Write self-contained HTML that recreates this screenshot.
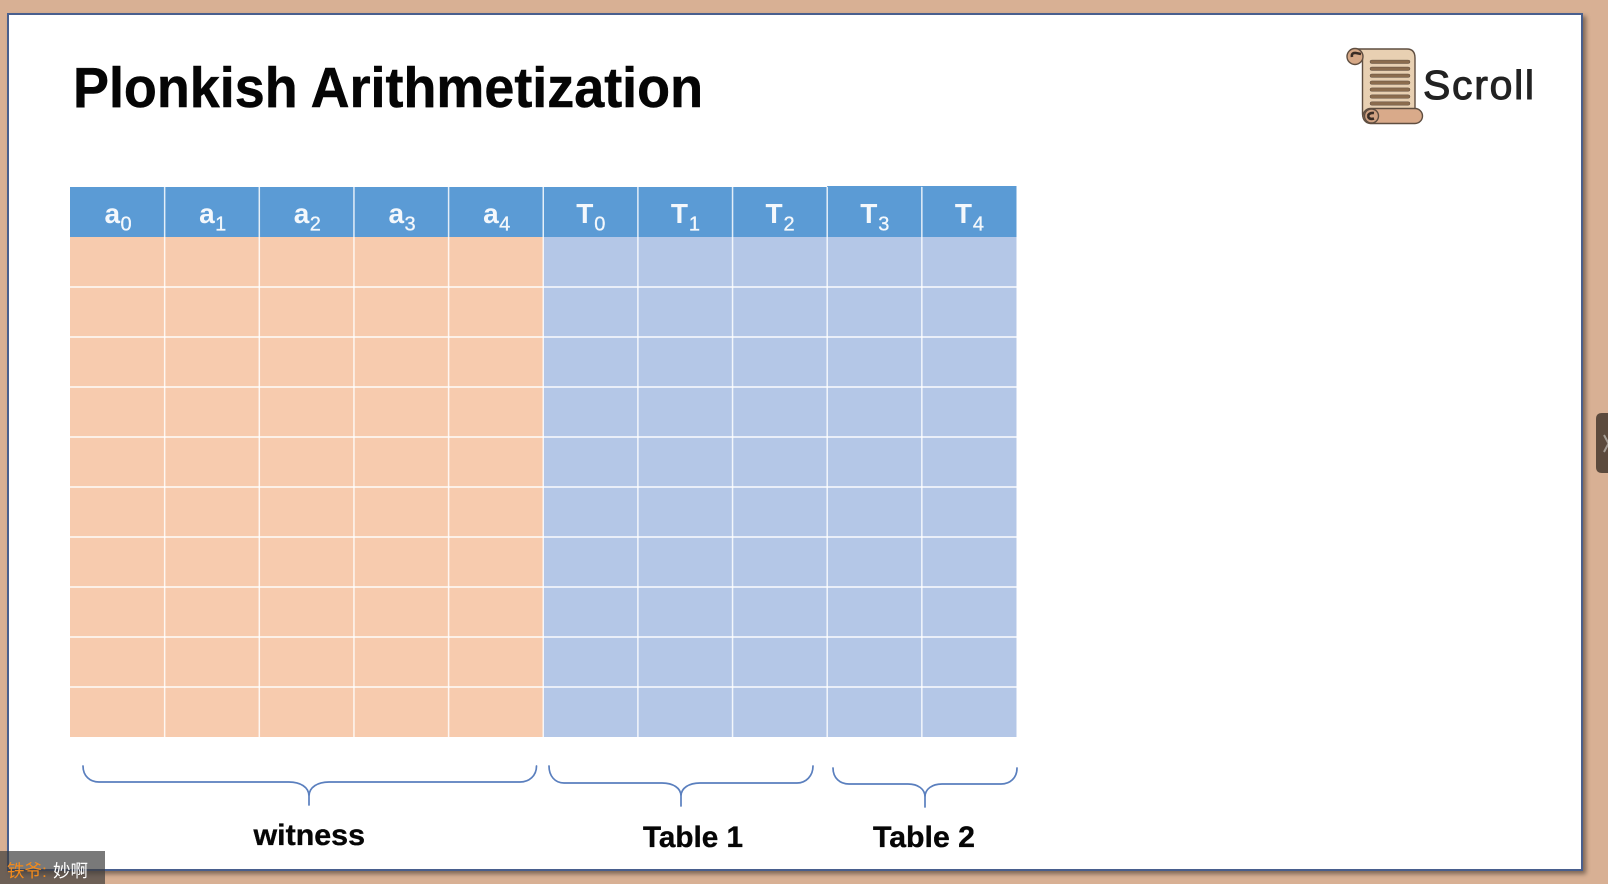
<!DOCTYPE html>
<html lang="en">
<head>
<meta charset="utf-8">
<title>Plonkish Arithmetization</title>
<style>
html,body{margin:0;padding:0;width:1608px;height:884px;overflow:hidden;background:#d8b094}
svg{display:block;position:absolute;left:0;top:0}
text{font-family:"Liberation Sans","Noto Sans CJK SC",sans-serif}
</style>
</head>
<body>
<svg id="stage" width="1608" height="884" viewBox="0 0 1608 884" xmlns="http://www.w3.org/2000/svg">
  <defs>
    <filter id="slideShadow" x="-2%" y="-2%" width="104%" height="104%">
      <feDropShadow dx="3" dy="3" stdDeviation="2.5" flood-color="#000" flood-opacity=".42"/>
    </filter>
  </defs>
  <rect x="8" y="14" width="1574" height="856" fill="#fff" stroke="#4a5f8e" stroke-width="2" filter="url(#slideShadow)"/>

  <text x="73" y="107" font-size="57" font-weight="700" fill="#050505" stroke="#050505" stroke-width=".5" textLength="630" lengthAdjust="spacingAndGlyphs">Plonkish Arithmetization</text>

  <g id="table"></g>

  <g fill="none" stroke="#5a7fbe" stroke-width="1.7" stroke-linecap="round">
    <path d="M83 766 C83 776 90 782 99 782 L289 782 C300 782 309 787 309 796 L309 805 M309 796 C309 787 318 782 329 782 L520 782 C529 782 536.5 776 536.5 766"/>
    <path d="M549 766 C549 776 555 783 564 783 L662 783 C673 783 681 788 681 796 L681 806 M681 796 C681 788 689 783 700 783 L797 783 C806 783 813 776 813 766"/>
    <path d="M833 768 C833 778 840 784 849 784 L908 784 C918 784 925 789 925 797 L925 807 M925 797 C925 789 932 784 942 784 L1001 784 C1010 784 1017 778 1017 768"/>
  </g>

  <text x="253.5" y="845" font-size="30" font-weight="700" fill="#060606" stroke="#060606" stroke-width=".35" textLength="111.5" lengthAdjust="spacingAndGlyphs">witness</text>
  <text x="643" y="847" font-size="30" font-weight="700" fill="#060606" stroke="#060606" stroke-width=".35" textLength="100" lengthAdjust="spacingAndGlyphs">Table 1</text>
  <text x="873" y="847" font-size="30" font-weight="700" fill="#060606" stroke="#060606" stroke-width=".35" textLength="102" lengthAdjust="spacingAndGlyphs">Table 2</text>

  <g>
    <g stroke="#5f4e40" stroke-width="1.4">
      <path d="M1355 49 L1407 49 Q1415 49 1415 58 L1415 109 L1372 123 Q1363 123 1362.5 114 L1362.5 56 Z" fill="#e8d0b2"/>
      <circle cx="1355" cy="56.5" r="8" fill="#d6a886"/>
      <path d="M1352 57 Q1351 52.5 1356 53 L1361 54" fill="none" stroke="#3a2d25" stroke-width="2.6"/>
      <rect x="1363" y="108.500" width="59.500" height="15" rx="7.500" fill="#d9aa8a"/>
      <circle cx="1371.500" cy="116" r="7" fill="#d0a283"/>
      <path d="M1368 116 Q1369 112.500 1374 113 M1368 116 Q1369 120 1374 118.500" fill="none" stroke="#3a2d25" stroke-width="2.6"/>
    </g>
    <g id="logoLines" fill="#8b6c4e" stroke="#5f4e40" stroke-width=".5"></g>
    <text x="1423" y="99" font-size="41" fill="#222" stroke="#222" stroke-width="1" textLength="111" lengthAdjust="spacing">Scroll</text>
  </g>

  <g>
    <path d="M1608 413 L1602 413 Q1596 413 1596 419 L1596 467 Q1596 473 1602 473 L1608 473 Z" fill="#5c4a3d"/>
    <path d="M1604 435 L1608.500 443.500 L1604 452" fill="none" stroke="#a59c94" stroke-width="2"/>
  </g>

  <g>
    <rect x="0" y="851" width="105" height="33" fill="#3a3a3a" fill-opacity=".68"/>
    <text x="7" y="877" font-size="17.500" fill="#f28a1c">铁爷:</text>
    <text x="53" y="877" font-size="17.500" fill="#fff">妙啊</text>
  </g>
</svg>
<script>
const columnBases = ['a','a','a','a','a','T','T','T','T','T'];
const columnSubscripts = ['0','1','2','3','4','0','1','2','3','4'];
const rowCount = 10;
const logoLineCount = 7;

const NS = 'http://www.w3.org/2000/svg';
const table = document.getElementById('table');
const colX = i => 70 + i * 94.65;
const rowY = r => 237 + r * 50;

function make(tag, attrs, parent) {
  const el = document.createElementNS(NS, tag);
  for (const k in attrs) el.setAttribute(k, attrs[k]);
  parent.appendChild(el);
  return el;
}

columnBases.forEach((base, c) => {
  const headTop = c >= 8 ? 186 : 187;
  const head = make('rect', {x: colX(c), y: headTop, width: 94.65, height: 237 - headTop, fill: '#5b9bd5'}, table);
  
  

  for (let r = 0; r < rowCount; r++) {
    const cell = make('rect', {x: colX(c), y: rowY(r), width: 94.65, height: 50, fill: base === 'a' ? '#f7cbae' : '#b4c7e7'}, table);
    
    
  }

  const baseX = colX(c) + (base === 'a' ? 34.5 : 33);
  const label = make('text', {x: baseX, y: 223, 'font-size': 28, 'font-weight': 700, fill: '#f4f8fc'}, table);
  label.textContent = base;
  
  

  const subX = base === 'a' ? baseX + 16 : baseX + 18;
  const sub = make('text', {x: subX, y: 230.500, 'font-size': 20, fill: '#f4f8fc', stroke: '#f4f8fc', 'stroke-width': 0.3}, table);
  sub.textContent = columnSubscripts[c];
  
  
});

for (let c = 1; c < columnBases.length; c++) {
  const v = make('rect', {x: colX(c) - 0.75, y: 187, width: 1.5, height: 550, fill: '#fff', 'fill-opacity': 0.82}, table);
  
  
}
for (let r = 1; r < rowCount; r++) {
  const h = make('rect', {x: 70, y: rowY(r) - 0.9, width: 946.5, height: 1.8, fill: '#fff', 'fill-opacity': 0.78}, table);
  
  
}

const logoLines = document.getElementById('logoLines');
for (let i = 0; i < logoLineCount; i++) {
  const line = make('rect', {x: 1370, y: 60.1 + i * 6.95, width: 40, height: 3.4, rx: 1.7}, logoLines);
  
  
}
</script>
</body>
</html>
